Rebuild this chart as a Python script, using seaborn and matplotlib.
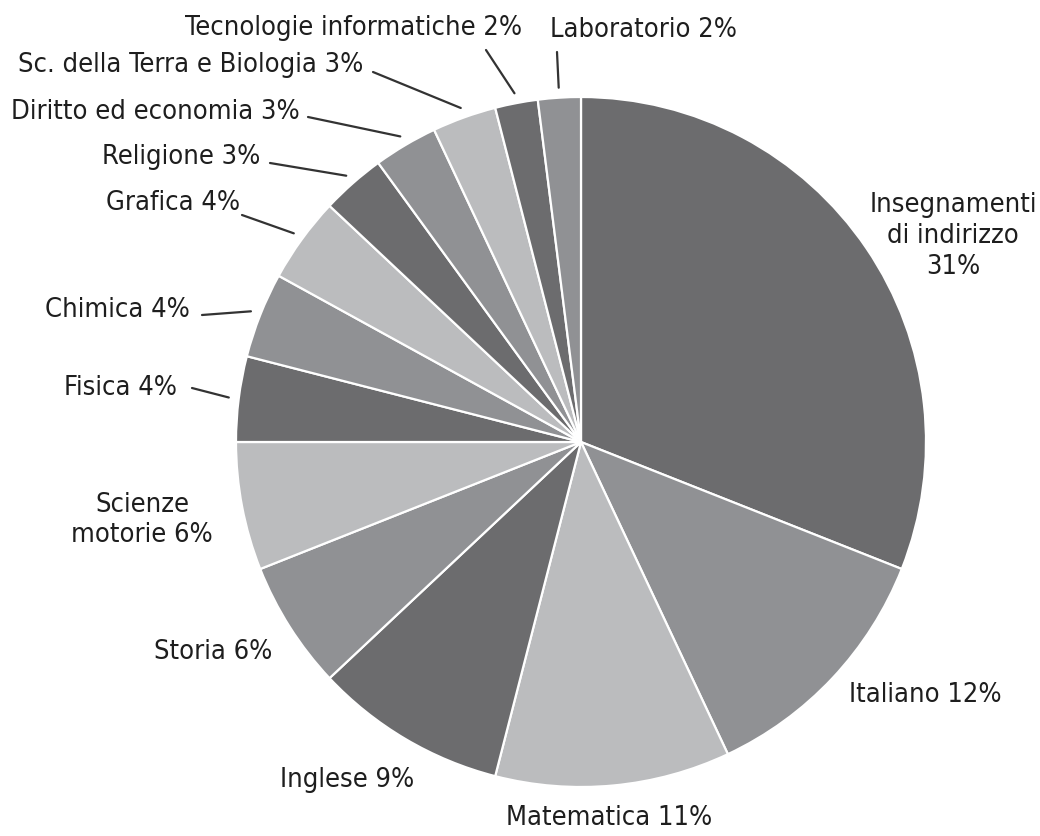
import matplotlib
matplotlib.use("Agg")
import matplotlib.pyplot as plt
import numpy as np
import seaborn as sns

# ---- data ----
categories = ["Insegnamenti\ndi indirizzo\n31%", "Italiano 12%", "Matematica 11%", "Inglese 9%",
              "Storia 6%", "Scienze\nmotorie 6%", "Fisica 4%", "Chimica 4%", "Grafica 4%",
              "Religione 3%", "Diritto ed economia 3%", "Sc. della Terra e Biologia 3%",
              "Tecnologie informatiche 2%", "Laboratorio 2%"]
values = [31, 12, 11, 9, 6, 6, 4, 4, 4, 3, 3, 3, 2, 2]
shade_index = [0, 1, 2, 0, 1, 2, 0, 1, 2, 0, 1, 2, 0, 1]

sns.set_theme(style="white")
plt.rcParams['font.family'] = ['DejaVu Sans']

W, H = 1040, 836
fig = plt.figure(figsize=(W / 100, H / 100), dpi=100)
ax = fig.add_axes([0, 0, 1, 1])

def P(x, y):
    return (x, H - y)

shades = sns.color_palette(["#6c6c6e", "#909194", "#bbbcbe"])
colors = [shades[i] for i in shade_index]

cx, cy = P(581, 442)
R = 345
wedges, _ = ax.pie(values, colors=colors, startangle=90, counterclock=False,
                   center=(cx, cy), radius=R,
                   wedgeprops=dict(edgecolor="white", linewidth=1.6))
ax.set_xlim(0, W)
ax.set_ylim(0, H)
ax.set_aspect("equal")
ax.axis("off")

tc = "#1e1e1e"
fs = 19.5

# label layout: (text x, text y, ha, leader-start or None)
layout = {
    0: (953, 236, "center", None),
    1: (925, 695, "center", None),
    2: (609, 818, "center", None),
    3: (347, 780, "center", None),
    4: (213, 652, "center", None),
    5: (142, 520, "center", None),
    6: (177, 388, "right", (192, 388)),
    7: (190, 310, "right", (202, 315)),
    8: (240, 203, "right", (242, 215)),
    9: (260, 157, "right", (270, 163)),
    10: (300, 112, "right", (308, 117)),
    11: (363, 65, "right", (373, 72)),
    12: (522, 28, "right", (486, 50)),
    13: (550, 30, "left", (557, 52)),
}

for i, w in enumerate(wedges):
    tx, ty, ha, start = layout[i]
    ax.text(*P(tx, ty), categories[i], ha=ha, va="center", fontsize=fs,
            color=tc, linespacing=1.25, fontstretch="condensed")
    if start is not None:
        mid = np.deg2rad((w.theta1 + w.theta2) / 2)
        ex = w.center[0] + (w.r + 10) * np.cos(mid)
        ey = w.center[1] + (w.r + 10) * np.sin(mid)
        ax.annotate("", xy=(ex, ey), xytext=P(*start),
                    arrowprops=dict(arrowstyle="-", color="#333333", lw=1.6,
                                    shrinkA=0, shrinkB=0))

fig.savefig("out.png", dpi=100)
